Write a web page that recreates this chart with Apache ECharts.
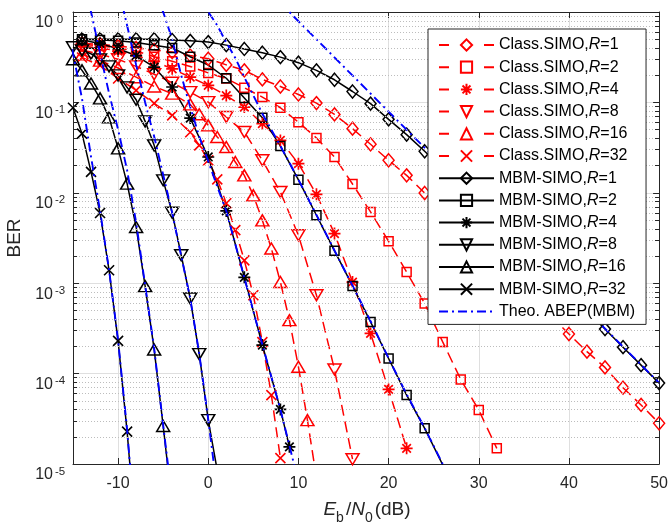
<!DOCTYPE html>
<html><head><meta charset="utf-8">
<script src="https://cdn.jsdelivr.net/npm/echarts@6/dist/echarts.min.js"></script>
<style>html,body{margin:0;padding:0;background:#fff}#c{width:671px;height:527px}</style>
</head><body><div id="c"></div>
<script>
// ---------- data (Eb/N0 in dB, BER) ----------
const clsR1_x = [-14,-12,-10,-8,-6,-4,-2,0,2,4,6,8,10,12,14,16,18,20,22,24,26,28,30,32,34,36,38,40,42,44,46,48,50];
const clsR1_y = [0.45,0.44,0.42,0.40,0.38,0.36,0.33,0.304,0.26,0.226,0.1795,0.15,0.1224,0.0982,0.0736,0.0512,0.0344,0.0229,0.0156,0.00995,0.0063,0.00408,0.00258,0.00167,0.00108,0.000685,0.000434,0.000274,0.000175,0.000117,0.0000698,0.000045,0.0000282];
const clsR2_x = [-14,-12,-10,-8,-6,-4,-2,0,2,4,6,8,10,12,14,16,18,20,22,24,26,28,30,32];
const clsR2_y = [0.44,0.42,0.40,0.37,0.32,0.285,0.25,0.212,0.184,0.145,0.1146,0.0873,0.0605,0.0404,0.0249,0.0125,0.00614,0.00291,0.00133,0.000597,0.000224,0.0000863,0.0000395,0.0000149];
const clsR4_x = [-14,-12,-10,-8,-6,-4,-2,0,2,4,6,8,10,12,14,16,18,20,22];
const clsR4_y = [0.42,0.40,0.37,0.33,0.285,0.235,0.19,0.154,0.119,0.0887,0.0582,0.038,0.021,0.00962,0.00354,0.00103,0.000278,0.0000668,0.0000149];
const clsR8_x = [-14,-12,-10,-8,-6,-4,-2,0,2,4,6,8,10,12,14,16];
const clsR8_y = [0.38,0.34,0.30,0.25,0.205,0.165,0.13,0.1007,0.0689,0.047,0.0229,0.0102,0.00339,0.000736,0.000111,0.0000113];
const clsR16_x = [-14,-12,-10,-8,-6,-4,-2,-1,0,1,2,3,4,5,6,7,8,9,10,11,12];
const clsR16_y = [0.34,0.29,0.24,0.19,0.15,0.125,0.095,0.074,0.0557,0.0414,0.0321,0.0219,0.0156,0.00937,0.00496,0.00242,0.00103,0.00039,0.000119,0.0000306,0.000007];
const clsR32_x = [-14,-12,-10,-8,-6,-4,-2,-1,0,1,2,3,4,5,6,7,8];
const clsR32_y = [0.314,0.256,0.184,0.136,0.0975,0.0718,0.0467,0.0335,0.0229,0.0141,0.00766,0.00386,0.00179,0.000736,0.000223,0.0000578,0.0000116];

const mbmR1_x = [-14,-12,-10,-8,-6,-4,-2,0,2,4,6,8,10,12,14,16,18,20,22,24,26,28,30,32,34,36,38,40,42,44,46,48,50];
const mbmR1_y = [0.5,0.5,0.5,0.5,0.5,0.49,0.48,0.465,0.43,0.39,0.354,0.317,0.275,0.226,0.178,0.132,0.0968,0.0649,0.044,0.0288,0.0184,0.0118,0.00746,0.00472,0.00299,0.00189,0.00121,0.000766,0.000491,0.000311,0.000196,0.000124,0.0000785];
const mbmR2_x = [-14,-12,-10,-8,-6,-4,-2,0,2,4,6,8,10,12,14,16,18,20,22,24,26];
const mbmR2_y = [0.5,0.49,0.48,0.46,0.43,0.40,0.32,0.259,0.185,0.112,0.0678,0.0329,0.0139,0.00564,0.00228,0.000933,0.000373,0.000147,0.0000578,0.0000248,0.0000098];
const mbmR4_x = [-14,-12,-10,-8,-6,-4,-2,0,2,4,6,8,9];
const mbmR4_y = [0.49,0.449,0.392,0.33,0.245,0.148,0.067,0.0249,0.0063,0.00116,0.000207,0.0000402,0.0000155];
const mbmR8_x = [-15,-14,-13,-12,-11,-10,-9,-8,-7,-6,-5,-4,-3,-2,-1,0,1];
const mbmR8_y = [0.408,0.376,0.345,0.299,0.25,0.199,0.1466,0.107,0.0617,0.0335,0.01374,0.00601,0.00204,0.000677,0.000164,0.0000306,0.0000085];
const mbmR16_x = [-15,-14,-13,-12,-11,-10,-9,-8,-7,-6,-5,-4];
const mbmR16_y = [0.3,0.226,0.162,0.1107,0.0682,0.031,0.01265,0.00419,0.000927,0.000185,0.0000263,0.0000035];
const mbmR32_x = [-15,-14,-13,-12,-11,-10,-9,-8];
const mbmR32_y = [0.0873,0.0451,0.01706,0.00598,0.00139,0.00023,0.0000228,0.0000015];

const thR1_x = [8,10,15,20,25,30,35,40,45,50];
const thR1_y = [1.26,0.79,0.25,0.079,0.025,0.0079,0.0025,0.00079,0.00025,0.000079];
const thR2_x = [-1,0,1,2,3,4,6,8,10,12,14,16,18,20,22,24,26];
const thR2_y = [1.5,1.0,0.71,0.46,0.31,0.19,0.075,0.033,0.014,0.0057,0.0023,0.00094,0.00038,0.000148,0.000059,0.000025,0.00001];
const thR4_x = [-6,-5,-4,-3,-2,-1,0,1,2,3,4,6,8,9,10];
const thR4_y = [1.7,1.0,0.5,0.2,0.089,0.042,0.0224,0.0117,0.0063,0.0027,0.00115,0.00021,0.00004,0.000016,0.0000063];
const thR8_x = [-10,-9,-8,-7,-6,-5,-4,-3,-2,-1,0,1];
const thR8_y = [1.9,0.71,0.26,0.1,0.042,0.0158,0.006,0.002,0.00068,0.000166,0.000031,0.000005];
const thR16_x = [-14,-13,-12,-11,-10,-9,-8,-7,-6,-5,-4];
const thR16_y = [2.8,1.0,0.35,0.126,0.05,0.0178,0.0047,0.00095,0.00019,0.000027,0.000004];
const thR32_x = [-16,-15,-14,-13,-12,-11,-10,-9,-8];
const thR32_y = [1.0,0.35,0.11,0.025,0.0063,0.0014,0.000234,0.000024,0.0000015];

const legendNames = ['Class.SIMO,R=1','Class.SIMO,R=2','Class.SIMO,R=4','Class.SIMO,R=8','Class.SIMO,R=16','Class.SIMO,R=32',
  'MBM-SIMO,R=1','MBM-SIMO,R=2','MBM-SIMO,R=4','MBM-SIMO,R=8','MBM-SIMO,R=16','MBM-SIMO,R=32','Theo. ABEP(MBM)'];
const xTitle = ['E','b','/','N','0','(dB)'];
const yTitle = 'BER';

// ---------- styling ----------
const FONT = '"Liberation Sans", Arial, Helvetica, sans-serif';
const RED = '#ff0000', BLK = '#000000', BLU = '#0000ff', AX = '#262626';
const DASH = [11, 6], DASHDOT = [9, 4, 2, 4];
const SYM = {
  diamond: {s: 'diamond', size: [11, 13], w: 1.5},
  square: {s: 'rect', size: [9, 9], w: 1.5},
  star: {s: 'path://M1,0L1,2M0,1L2,1M0.29,0.29L1.71,1.71M0.29,1.71L1.71,0.29', size: [12, 12], w: 1.7},
  down: {s: 'path://M0,0L2,0L1,1.7Z', size: [13, 11], w: 1.5},
  up: {s: 'path://M1,0L2,1.7L0,1.7Z', size: [13, 11], w: 1.5},
  cross: {s: 'path://M0,0L2,2M0,2L2,0', size: [10, 10], w: 1.6}
};
const pairs = (xs, ys) => xs.map((x, i) => [x, ys[i]]);

function dataSeries(name, xs, ys, color, dash, symKey) {
  return {
    type: 'line', name, data: pairs(xs, ys),
    symbol: SYM[symKey].s, symbolSize: SYM[symKey].size, showSymbol: true,
    lineStyle: {color, width: 1.5, type: dash},
    itemStyle: {color: 'rgba(255,255,255,0)', borderColor: color, borderWidth: SYM[symKey].w},
    emphasis: {disabled: true}, animation: false, clip: true, z: 3
  };
}
function theoSeries(xs, ys) {
  return {
    type: 'line', name: legendNames[12], data: pairs(xs, ys),
    symbol: 'circle', showSymbol: false,
    lineStyle: {color: BLU, width: 1.9, type: DASHDOT},
    itemStyle: {color: 'rgba(0,0,0,0)', borderWidth: 0},
    emphasis: {disabled: true}, animation: false, clip: true, z: 4
  };
}

// minor grid (2..9 x 10^k) and minor ticks, placed through the axis scale with markLine
const minorVals = [];
for (let k = -5; k < 0; k++) for (let m = 2; m <= 9; m++) minorVals.push(+(m * Math.pow(10, k)).toPrecision(3));
const gridLines = minorVals.map(v => [{coord: [-15, v]}, {coord: [50, v]}]);
const tickLines = [];
minorVals.forEach(v => {
  tickLines.push([{coord: [-15, v]}, {coord: [-14.55, v]}]);
  tickLines.push([{coord: [49.55, v]}, {coord: [50, v]}]);
});

const series = [
  {type: 'line', data: [], silent: true, animation: false, z: 1,
   markLine: {silent: true, animation: false, symbol: ['none', 'none'], label: {show: false},
     lineStyle: {color: '#bdbdbd', width: 1, type: [1, 2]}, emphasis: {disabled: true}, data: gridLines}},
  {type: 'line', data: [], silent: true, animation: false, z: 1,
   markLine: {silent: true, animation: false, symbol: ['none', 'none'], label: {show: false},
     lineStyle: {color: AX, width: 1, type: 'solid'}, emphasis: {disabled: true}, data: tickLines}},
  dataSeries(legendNames[0], clsR1_x, clsR1_y, RED, DASH, 'diamond'),
  dataSeries(legendNames[1], clsR2_x, clsR2_y, RED, DASH, 'square'),
  dataSeries(legendNames[2], clsR4_x, clsR4_y, RED, DASH, 'star'),
  dataSeries(legendNames[3], clsR8_x, clsR8_y, RED, DASH, 'down'),
  dataSeries(legendNames[4], clsR16_x, clsR16_y, RED, DASH, 'up'),
  dataSeries(legendNames[5], clsR32_x, clsR32_y, RED, DASH, 'cross'),
  dataSeries(legendNames[6], mbmR1_x, mbmR1_y, BLK, 'solid', 'diamond'),
  dataSeries(legendNames[7], mbmR2_x, mbmR2_y, BLK, 'solid', 'square'),
  dataSeries(legendNames[8], mbmR4_x, mbmR4_y, BLK, 'solid', 'star'),
  dataSeries(legendNames[9], mbmR8_x, mbmR8_y, BLK, 'solid', 'down'),
  dataSeries(legendNames[10], mbmR16_x, mbmR16_y, BLK, 'solid', 'up'),
  dataSeries(legendNames[11], mbmR32_x, mbmR32_y, BLK, 'solid', 'cross'),
  theoSeries(thR1_x, thR1_y), theoSeries(thR2_x, thR2_y), theoSeries(thR4_x, thR4_y),
  theoSeries(thR8_x, thR8_y), theoSeries(thR16_x, thR16_y), theoSeries(thR32_x, thR32_y)
];

const axisLineStyle = {show: true, onZero: false, lineStyle: {color: AX, width: 1}};
const option = {
  animation: false,
  backgroundColor: '#fff',
  textStyle: {fontFamily: FONT},
  grid: {left: 73, right: 9, top: 12, bottom: 63, containLabel: false},
  xAxis: [
    {type: 'value', min: -15, max: 50, splitNumber: 7, position: 'bottom',
     axisLine: axisLineStyle,
     axisTick: {show: true, inside: true, length: 6, lineStyle: {color: AX}},
     axisLabel: {fontSize: 16, color: AX, margin: 12, showMinLabel: false, fontFamily: FONT},
     splitLine: {show: true, lineStyle: {color: '#dfdfdf', width: 1}}},
    {type: 'value', min: -15, max: 50, splitNumber: 7, position: 'top',
     axisLine: axisLineStyle,
     axisTick: {show: true, inside: true, length: 6, lineStyle: {color: AX}},
     axisLabel: {show: false}, splitLine: {show: false}}
  ],
  yAxis: [
    {type: 'log', logBase: 10, min: 0.00001, max: 1, position: 'left',
     axisLine: axisLineStyle,
     axisTick: {show: true, inside: true, length: 6, lineStyle: {color: AX}},
     axisLabel: {color: AX, margin: 7, fontFamily: FONT,
       formatter: v => '{b|10}{s|' + Math.round(Math.log10(v)) + '}',
       rich: {
         b: {fontSize: 16, lineHeight: 16, padding: [11, 0, 0, 0], verticalAlign: 'top', color: AX, fontFamily: FONT},
         s: {fontSize: 11.5, lineHeight: 11, padding: [9.5, 0, 0, 1], verticalAlign: 'top', width: 12, align: 'left', color: AX, fontFamily: FONT}
       }},
     splitLine: {show: true, lineStyle: {color: '#dfdfdf', width: 1}}},
    {type: 'log', logBase: 10, min: 0.00001, max: 1, position: 'right',
     axisLine: axisLineStyle,
     axisTick: {show: true, inside: true, length: 6, lineStyle: {color: AX}},
     axisLabel: {show: false}, splitLine: {show: false}}
  ],
  legend: {
    orient: 'vertical', left: 428, top: 29,
    padding: [8, 11, 5, 10],
    itemWidth: 55, itemHeight: 14, itemGap: 6.2,
    backgroundColor: '#fff', borderColor: AX, borderWidth: 1,
    selectedMode: false, z: 10,
    data: legendNames.map((n, i) => i < 6 ? {name: n, lineStyle: {type: [10, 35]}} : {name: n}),
    formatter: n => n.replace('R=', '{i|R}='),
    textStyle: {fontSize: 16, lineHeight: 16, color: '#000', fontFamily: FONT,
      rich: {i: {fontStyle: 'italic', fontSize: 16, lineHeight: 16, color: '#000', fontFamily: FONT}}}
  },
  graphic: [
    {type: 'text', x: 15, y: 238, rotation: Math.PI / 2, silent: true,
     style: {text: yTitle, font: '19px ' + FONT, fontSize: 19, fontFamily: FONT, fill: AX,
       align: 'center', verticalAlign: 'middle', textAlign: 'center', textVerticalAlign: 'middle'}},
    {type: 'text', x: 367, y: 511.6, silent: true,
     style: {
       text: '{i|' + xTitle[0] + '}{sb|' + xTitle[1] + '}{n|' + xTitle[2] + '}{i|' + xTitle[3] + '}{sb|' + xTitle[4] + '}{n|' + xTitle[5] + '}',
       align: 'center', verticalAlign: 'middle', textAlign: 'center', textVerticalAlign: 'middle',
       fill: AX, fontSize: 19, fontFamily: FONT,
       rich: {
         i: {fontStyle: 'italic', fontSize: 19, lineHeight: 22, verticalAlign: 'top', fill: AX, fontFamily: FONT},
         n: {fontSize: 19, lineHeight: 22, verticalAlign: 'top', fill: AX, fontFamily: FONT, padding: [0, 0, 0, 1]},
         sb: {fontSize: 14, lineHeight: 14, verticalAlign: 'top', padding: [10.4, 1, 0, 0], fill: AX, fontFamily: FONT}
       }}}
  ],
  series
};
const chart = echarts.init(document.getElementById('c'), null, {renderer: 'canvas'});
chart.setOption(option);
</script>
</body></html>
